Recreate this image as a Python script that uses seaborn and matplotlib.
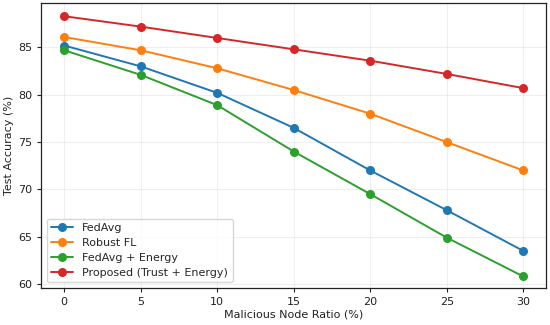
import numpy as np
import pandas as pd
import matplotlib
matplotlib.use('Agg')
import matplotlib.pyplot as plt
import seaborn as sns

# Values
ratios = [0, 5, 10, 15, 20, 25, 30]
fedavg = [85.2, 83.0, 80.2, 76.5, 72.0, 67.8, 63.5]
robust_fl = [86.1, 84.7, 82.8, 80.5, 78.0, 75.0, 72.0]
fedavg_energy = [84.7, 82.1, 78.9, 74.0, 69.5, 64.9, 60.8]
proposed = [88.3, 87.2, 86.0, 84.8, 83.6, 82.2, 80.7]

methods = ['FedAvg', 'Robust FL', 'FedAvg + Energy', 'Proposed (Trust + Energy)']
series = [fedavg, robust_fl, fedavg_energy, proposed]

df = pd.DataFrame({
    'ratio': ratios * len(methods),
    'acc': sum(series, []),
    'method': np.repeat(methods, len(ratios)),
})

sns.set_style('ticks')
plt.rcParams['font.family'] = ['DejaVu Sans']
plt.rcParams['font.size'] = 8

fig, ax = plt.subplots(figsize=(5.5, 3.25), dpi=100)
sns.lineplot(data=df, x='ratio', y='acc', hue='method', hue_order=methods,
             palette=sns.color_palette('tab10', 4), marker='o', markersize=6.5,
             markeredgewidth=0, linewidth=1.4, ax=ax)

ax.set_xlabel('Malicious Node Ratio (%)', fontsize=8, labelpad=2, color='#222222')
ax.set_ylabel('Test Accuracy (%)', fontsize=8, labelpad=3, color='#222222')
ax.set_xticks(ratios)
ax.set_yticks([60, 65, 70, 75, 80, 85])
ax.tick_params(labelsize=8, length=3, width=0.8, colors='#222222')
ax.set_xlim(-1.5, 31.5)
ax.set_ylim(59.58, 89.67)
ax.grid(True, alpha=0.3)
for s in ax.spines.values():
    s.set_linewidth(0.9)
    s.set_color('#222222')
ax.legend(loc='lower left', fontsize=8, frameon=True, handlelength=2,
          borderpad=0.4, labelspacing=0.45)

fig.subplots_adjust(left=0.075, right=0.993, top=0.99, bottom=0.114)
fig.savefig('out.png', dpi=100)
